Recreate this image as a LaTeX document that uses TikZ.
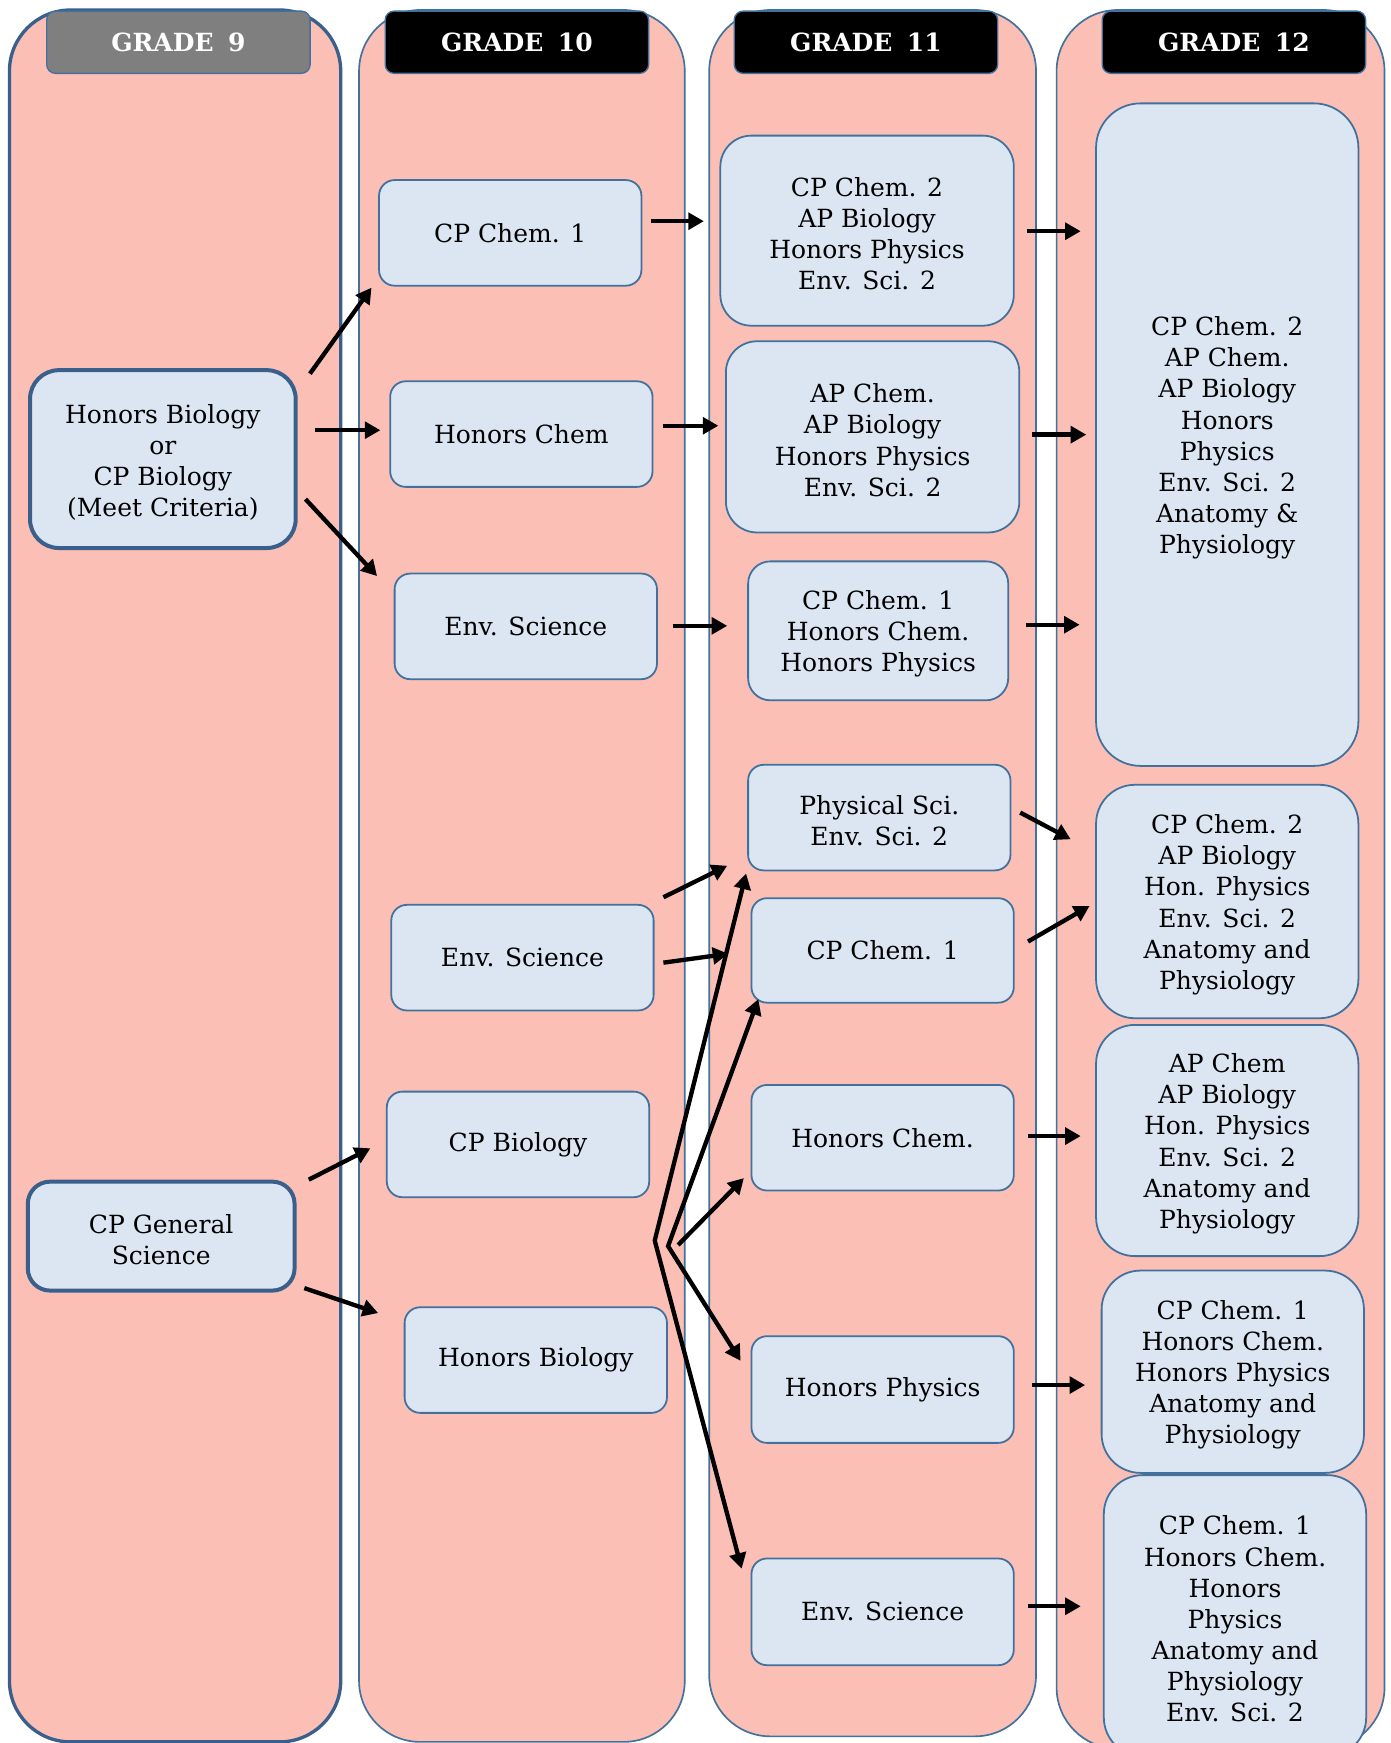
\documentclass[tikz,border=0pt]{standalone}
\usepackage{fontspec}
\setmainfont{DejaVu Serif}
\usetikzlibrary{arrows.meta,calc}
\definecolor{colfill}{HTML}{FBBFB6}
\definecolor{boxfill}{HTML}{DCE6F2}
\definecolor{bord}{HTML}{41719C}
\definecolor{bordd}{HTML}{3A5F8B}
\definecolor{hgray}{HTML}{7F7F7F}
\newcommand{\fl}{\rule{0pt}{23pt}}
\begin{document}
\begin{tikzpicture}[x=1pt,y=-1pt,
  col/.style={draw=bord, fill=colfill, line width=1.5pt, rounded corners=55pt, inner sep=0pt},
  hdr/.style={draw=bord, line width=1.2pt, rounded corners=8pt, minimum width=237, minimum height=56,
    inner sep=0pt, text=white, font=\fontsize{22.5}{27}\selectfont\bfseries},
  box/.style={draw=bord, fill=boxfill, line width=1.6pt, rounded corners=14pt, align=center,
    inner sep=0pt, font=\fontsize{22.5}{28}\selectfont, minimum width=236, minimum height=95},
  bigbox/.style={box, rounded corners=28pt},
  thickbox/.style={box, draw=bordd, line width=3.6pt, rounded corners=26pt},
  arr/.style={-{Triangle[length=14pt,width=15pt]}, line width=3.9pt},
  farr/.style={{Triangle[length=14pt,width=15pt]}-{Triangle[length=14pt,width=15pt]}, line width=3.9pt, line join=miter}
]
\useasboundingbox (0,0) rectangle (1251,1568);
\fill[white] (0,0) rectangle (1251,1568);

% columns
\node[col, draw=bordd, line width=3pt, minimum width=298, minimum height=1558] (c9) at (157.5,788) {};
\node[col, minimum width=293, minimum height=1558] (c10) at (469.5,788) {};
\node[col, minimum width=294, minimum height=1553] (c11) at (785,785.5) {};
\node[col, minimum width=295, minimum height=1564] (c12) at (1098,791) {};

% headers
\node[hdr, fill=hgray] (h9) at (160.5,38) {GRADE\hspace{13pt}9};
\node[hdr, fill=black] (h10) at (465,38) {GRADE\hspace{13pt}10};
\node[hdr, fill=black] (h11) at (779,38) {GRADE\hspace{13pt}11};
\node[hdr, fill=black] (h12) at (1110,38) {GRADE\hspace{13pt}12};

% grade 9
\node[thickbox, minimum width=239, minimum height=160] (hb) at (146.5,413)
  {\fl Honors Biology\\or\\CP Biology\\(Meet Criteria)};
\node[thickbox, rounded corners=20pt, minimum width=240, minimum height=98] (gs) at (145,1112)
  {\fl CP General\\Science};

% grade 10
\node[box] (cc1) at (459,209.5) {CP Chem. 1};
\node[box] (hc) at (469,390.5) {Honors Chem};
\node[box] (es1) at (473,563.5) {Env. Science};
\node[box] (es2) at (470,861.5) {Env. Science};
\node[box] (cpb) at (466,1029.5) {CP Biology};
\node[box] (hbio) at (482,1223.5) {Honors Biology};

% grade 11
\node[bigbox, minimum width=264, minimum height=171] (a) at (780,207.5)
  {\fl CP Chem. 2\\AP Biology\\Honors Physics\\Env. Sci. 2};
\node[bigbox, minimum width=264, minimum height=172] (b) at (785,393)
  {\fl AP Chem.\\AP Biology\\Honors Physics\\Env. Sci. 2};
\node[box, rounded corners=20pt, minimum width=234, minimum height=125] (c) at (790,567.5)
  {\fl CP Chem. 1\\Honors Chem.\\Honors Physics};
\node[box] (d) at (791,735.5) {\fl Physical Sci.\\Env. Sci. 2};
\node[box, minimum height=94] (e) at (794,855) {CP Chem. 1};
\node[box] (f) at (794,1023.5) {Honors Chem.};
\node[box, minimum height=96] (g) at (794,1250) {Honors Physics};
\node[box, minimum height=96] (h) at (794,1450) {Env. Science};

% grade 12
\node[box, rounded corners=40pt, minimum height=596] (p) at (1104,391)
  {\fl CP Chem. 2\\AP Chem.\\AP Biology\\Honors\\Physics\\Env. Sci. 2\\Anatomy \&\\Physiology};
\node[box, rounded corners=35pt, minimum height=210] (q) at (1104,811)
  {\fl CP Chem. 2\\AP Biology\\Hon. Physics\\Env. Sci. 2\\Anatomy and\\Physiology};
\node[box, rounded corners=35pt, minimum height=208] (r) at (1104,1026)
  {\fl AP Chem\\AP Biology\\Hon. Physics\\Env. Sci. 2\\Anatomy and\\Physiology};
\node[box, rounded corners=35pt, minimum height=182] (s) at (1109,1234)
  {\fl CP Chem. 1\\Honors Chem.\\Honors Physics\\Anatomy and\\Physiology};
\node[box, rounded corners=35pt, minimum height=253] (t) at (1111,1453.5)
  {\fl CP Chem. 1\\Honors Chem.\\Honors\\Physics\\Anatomy and\\Physiology\\Env. Sci. 2};

% arrows grade 9 -> 10
\draw[arr] ($(hb.north east)+(11,5)$) -- ($(cc1.south west)+(-6,1)$);
\draw[arr] ($(hb.east)+(16,-26)$) -- ($(hc.west)+(-8,-3.5)$);
\draw[arr] ($(hb.east)+(7,36)$) -- ($(es1.north west)+(-15,3)$);
\draw[arr] ($(gs.north east)+(11,0)$) -- ($(cpb.west)+(-14,3.5)$);
\draw[arr] ($(gs.south east)+(7,-4)$) -- ($(hbio.north west)+(-23,6)$);

% arrows grade 10 -> 11
\draw[arr] ($(cc1.east)+(8,-10.5)$) -- ($(a.west)+(-14,-8.5)$);
\draw[arr] ($(hc.east)+(9,-7.5)$) -- ($(b.west)+(-6,-10)$);
\draw[arr] ($(es1.east)+(14,-0.5)$) -- ($(c.west)+(-18,-4.5)$);
\draw[arr] ($(es2.north east)+(8,-6)$) -- ($(d.south west)+(-18,-5)$);
\draw[arr] ($(es2.east)+(8,4.5)$) -- ($(e.west)+(-20,3)$);

% fan
\coordinate (fan1) at (589,1116);
\coordinate (fan2) at (601,1121);
\coordinate (fan3) at (610,1120);
\draw[farr] ($(d.south west)+(-1,2)$) -- (fan1) -- ($(h.north west)+(-8,10)$);
\draw[farr] ($(e.south west)+(7,-4)$) -- (fan2) -- ($(g.north west)+(-9,23)$);
\draw[arr] (fan3) -- ($(f.south west)+(-6,-12)$);

% arrows grade 11 -> 12
\draw[arr] ($(a.east)+(11,0.5)$) -- ($(p.west)+(-13,-183)$);
\draw[arr] ($(b.east)+(11,-2)$) -- ($(p.west)+(-8,0)$);
\draw[arr] ($(c.east)+(15,-5.5)$) -- ($(p.west)+(-14,171)$);
\draw[arr] ($(d.east)+(8,-4.5)$) -- ($(q.west)+(-22,-56)$);
\draw[arr] ($(e.east)+(12,-8)$) -- ($(q.west)+(-5,4)$);
\draw[arr] ($(f.east)+(12,-1.5)$) -- ($(r.west)+(-13,-4)$);
\draw[arr] ($(g.east)+(16,-4)$) -- ($(s.west)+(-14,12)$);
\draw[arr] ($(h.east)+(12,-5)$) -- ($(t.west)+(-20,-8.5)$);
\end{tikzpicture}
\end{document}
